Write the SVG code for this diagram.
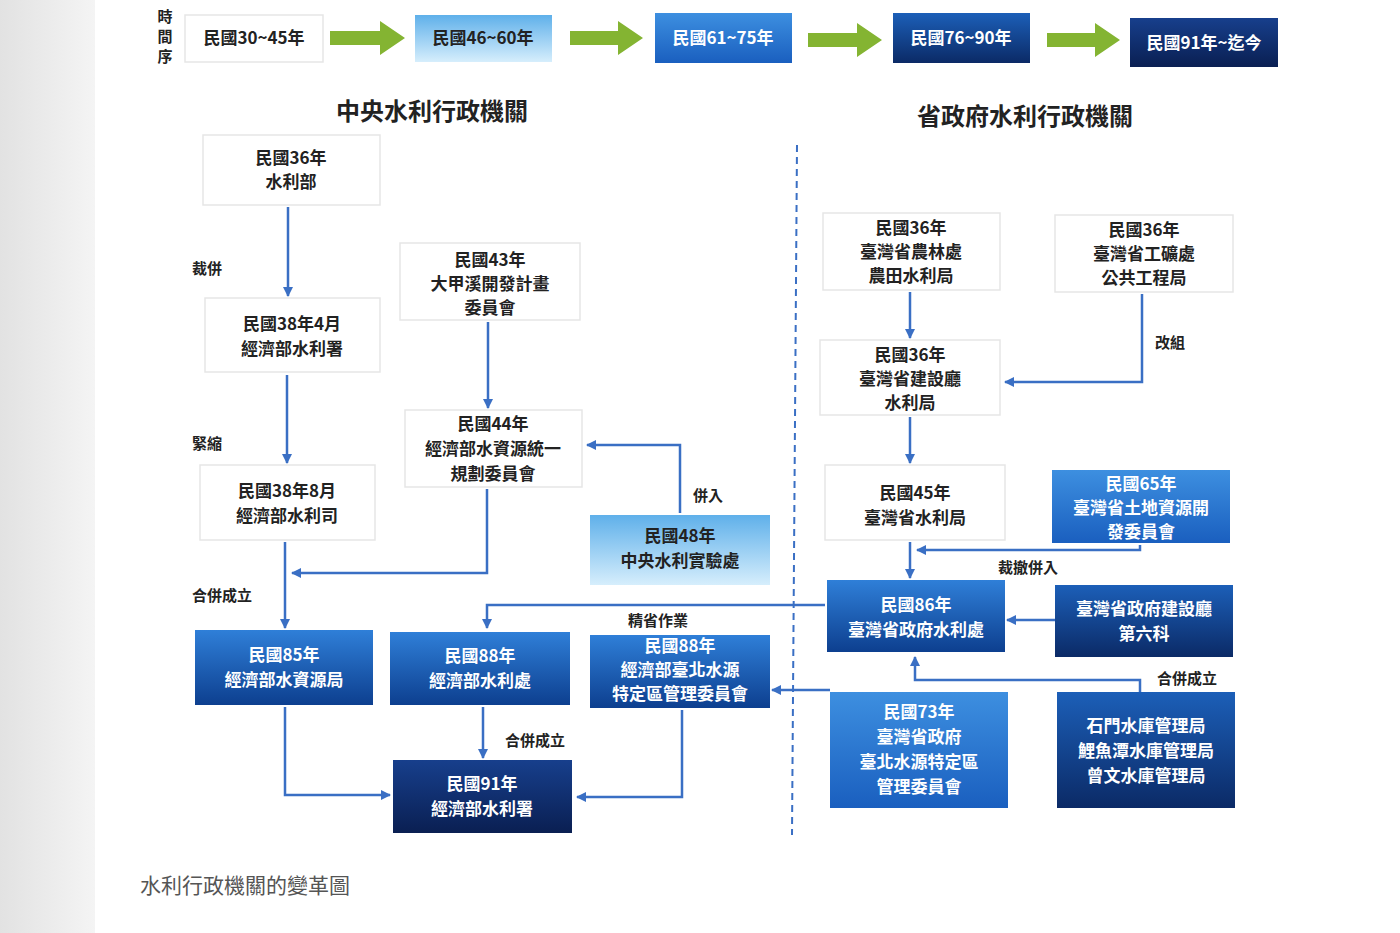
<svg xmlns="http://www.w3.org/2000/svg" width="1400" height="933" viewBox="0 0 1400 933">
<defs>
<linearGradient id="gLight" x1="0" y1="0" x2="0" y2="1"><stop offset="0" stop-color="#5fb0ea"/><stop offset="1" stop-color="#d6eefc"/></linearGradient>
<linearGradient id="gMid" x1="0" y1="0" x2="0" y2="1"><stop offset="0" stop-color="#3d8fe0"/><stop offset="1" stop-color="#1a5fbf"/></linearGradient>
<linearGradient id="gBlue" x1="0" y1="0" x2="0" y2="1"><stop offset="0" stop-color="#2f7fd8"/><stop offset="1" stop-color="#0d3f8f"/></linearGradient>
<linearGradient id="gDark" x1="0" y1="0" x2="0" y2="1"><stop offset="0" stop-color="#1c5fb8"/><stop offset="1" stop-color="#0b2a66"/></linearGradient>
<linearGradient id="gNavy" x1="0" y1="0" x2="0" y2="1"><stop offset="0" stop-color="#173f8c"/><stop offset="1" stop-color="#0a1f52"/></linearGradient>
<linearGradient id="gLeft" x1="0" y1="0" x2="1" y2="0"><stop offset="0" stop-color="#e2e2e2"/><stop offset="1" stop-color="#f4f4f4"/></linearGradient>
<marker id="ah" viewBox="0 0 10 10" refX="9" refY="5" markerWidth="4" markerHeight="4" orient="auto"><path d="M0,0L10,5L0,10z" fill="#3a6fc4"/></marker>
</defs>
<style>
text{font-family:"Noto Sans CJK TC","Noto Sans CJK SC",sans-serif;font-weight:bold;text-anchor:middle}
.w{fill:#fff;stroke:#e6e6e6;stroke-width:1.5}
.t{font-size:17px;fill:#222}
.tw{font-size:17px;fill:#fff}
.lb{font-size:15px;fill:#222;text-anchor:start}
.h{font-size:24px;fill:#222}
.c{fill:none;stroke:#3a6fc4;stroke-width:2.5;marker-end:url(#ah)}
.ga{fill:#84b432}
</style>
<rect width="1400" height="933" fill="#fff"/>
<rect width="95" height="933" fill="url(#gLeft)"/>
<text x="165" y="22" class="t" style="font-size:15px">時</text>
<text x="165" y="42" class="t" style="font-size:15px">間</text>
<text x="165" y="62" class="t" style="font-size:15px">序</text>

<g id="timeline">
<rect x="185" y="15" width="138" height="47" class="w"/><text x="254" y="44" class="t">民國30~45年</text>
<rect x="415" y="15" width="137" height="47" fill="url(#gLight)"/><text x="483" y="44" class="t">民國46~60年</text>
<rect x="655" y="13" width="137" height="50" fill="url(#gMid)"/><text x="723" y="44" class="tw">民國61~75年</text>
<rect x="893" y="13" width="137" height="50" fill="url(#gDark)"/><text x="961" y="44" class="tw">民國76~90年</text>
<rect x="1130" y="18" width="148" height="49" fill="url(#gNavy)"/><text x="1204" y="49" class="tw">民國91年~迄今</text>
<path class="ga" d="M330,31h50v-10l25,17l-25,17v-10h-50z"/>
<path class="ga" d="M570,31h48v-10l25,17l-25,17v-10h-48z"/>
<path class="ga" d="M808,33h49v-10l25,17l-25,17v-10h-49z"/>
<path class="ga" d="M1047,33h48v-10l25,17l-25,17v-10h-48z"/>
</g>

<text x="432" y="120" class="h">中央水利行政機關</text>
<text x="1025" y="125" class="h">省政府水利行政機關</text>
<line x1="797" y1="145" x2="792" y2="835" stroke="#3a6fc4" stroke-width="2" stroke-dasharray="7,5"/>

<g id="connectors">
<path class="c" d="M288,207V296"/>
<path class="c" d="M287,375V463"/>
<path class="c" d="M285,542V628"/>
<path class="c" d="M488,322V408"/>
<path class="c" d="M487,489V573H292"/>
<path class="c" d="M680,513V445H587"/>
<path class="c" d="M825,605H487V628"/>
<path class="c" d="M830,690H772"/>
<path class="c" d="M1140,692V680H915V657"/>
<path class="c" d="M1055,620H1007"/>
<path class="c" d="M1140,545V550H917"/>
<path class="c" d="M910,542V578"/>
<path class="c" d="M910,292V338"/>
<path class="c" d="M1142,294V382H1005"/>
<path class="c" d="M910,417V463"/>
<path class="c" d="M285,707V795H390"/>
<path class="c" d="M483,707V758"/>
<path class="c" d="M682,710V797H577"/>
</g>

<g id="labels">
<text x="192" y="274" class="lb">裁併</text>
<text x="192" y="449" class="lb">緊縮</text>
<text x="192" y="601" class="lb">合併成立</text>
<text x="693" y="501" class="lb">併入</text>
<text x="628" y="626" class="lb">精省作業</text>
<text x="505" y="746" class="lb">合併成立</text>
<text x="1155" y="348" class="lb">改組</text>
<text x="998" y="573" class="lb">裁撤併入</text>
<text x="1157" y="684" class="lb">合併成立</text>
</g>

<g id="n1"><rect x="203" y="135" width="177" height="70" class="w"/><text x="291" y="164" class="t">民國36年</text><text x="291" y="188" class="t">水利部</text></g>
<g id="n2"><rect x="205" y="298" width="175" height="74" class="w"/><text x="292" y="330" class="t">民國38年4月</text><text x="292" y="355" class="t">經濟部水利署</text></g>
<g id="n3"><rect x="200" y="465" width="175" height="75" class="w"/><text x="287" y="497" class="t">民國38年8月</text><text x="287" y="522" class="t">經濟部水利司</text></g>
<g id="n4"><rect x="400" y="243" width="180" height="77" class="w"/><text x="490" y="266" class="t">民國43年</text><text x="490" y="290" class="t">大甲溪開發計畫</text><text x="490" y="314" class="t">委員會</text></g>
<g id="n5"><rect x="405" y="410" width="177" height="77" class="w"/><text x="493" y="430" class="t">民國44年</text><text x="493" y="455" class="t">經濟部水資源統一</text><text x="493" y="480" class="t">規劃委員會</text></g>
<g id="n6"><rect x="590" y="515" width="180" height="70" fill="url(#gLight)"/><text x="680" y="542" class="t">民國48年</text><text x="680" y="567" class="t">中央水利實驗處</text></g>
<g id="n7"><rect x="195" y="630" width="178" height="75" fill="url(#gBlue)"/><text x="284" y="661" class="tw">民國85年</text><text x="284" y="686" class="tw">經濟部水資源局</text></g>
<g id="n8"><rect x="390" y="632" width="180" height="73" fill="url(#gBlue)"/><text x="480" y="662" class="tw">民國88年</text><text x="480" y="687" class="tw">經濟部水利處</text></g>
<g id="n9"><rect x="590" y="635" width="180" height="73" fill="url(#gBlue)"/><text x="680" y="652" class="tw">民國88年</text><text x="680" y="676" class="tw">經濟部臺北水源</text><text x="680" y="700" class="tw">特定區管理委員會</text></g>
<g id="n10"><rect x="393" y="760" width="179" height="73" fill="url(#gNavy)"/><text x="482" y="790" class="tw">民國91年</text><text x="482" y="815" class="tw">經濟部水利署</text></g>

<g id="r1"><rect x="823" y="213" width="177" height="77" class="w"/><text x="911" y="234" class="t">民國36年</text><text x="911" y="258" class="t">臺灣省農林處</text><text x="911" y="282" class="t">農田水利局</text></g>
<g id="r2"><rect x="1055" y="215" width="178" height="77" class="w"/><text x="1144" y="236" class="t">民國36年</text><text x="1144" y="260" class="t">臺灣省工礦處</text><text x="1144" y="284" class="t">公共工程局</text></g>
<g id="r3"><rect x="820" y="340" width="180" height="75" class="w"/><text x="910" y="361" class="t">民國36年</text><text x="910" y="385" class="t">臺灣省建設廳</text><text x="910" y="409" class="t">水利局</text></g>
<g id="r4"><rect x="825" y="465" width="180" height="75" class="w"/><text x="915" y="499" class="t">民國45年</text><text x="915" y="524" class="t">臺灣省水利局</text></g>
<g id="r5"><rect x="1052" y="470" width="178" height="73" fill="url(#gMid)"/><text x="1141" y="490" class="tw">民國65年</text><text x="1141" y="514" class="tw">臺灣省土地資源開</text><text x="1141" y="538" class="tw">發委員會</text></g>
<g id="r6"><rect x="827" y="580" width="178" height="72" fill="url(#gBlue)"/><text x="916" y="611" class="tw">民國86年</text><text x="916" y="636" class="tw">臺灣省政府水利處</text></g>
<g id="r7"><rect x="1055" y="585" width="178" height="72" fill="url(#gDark)"/><text x="1144" y="615" class="tw">臺灣省政府建設廳</text><text x="1144" y="640" class="tw">第六科</text></g>
<g id="r8"><rect x="830" y="692" width="178" height="116" fill="url(#gMid)"/><text x="919" y="718" class="tw">民國73年</text><text x="919" y="743" class="tw">臺灣省政府</text><text x="919" y="768" class="tw">臺北水源特定區</text><text x="919" y="793" class="tw">管理委員會</text></g>
<g id="r9"><rect x="1057" y="692" width="178" height="116" fill="url(#gDark)"/><text x="1146" y="732" class="tw">石門水庫管理局</text><text x="1146" y="757" class="tw">鯉魚潭水庫管理局</text><text x="1146" y="782" class="tw">曾文水庫管理局</text></g>

<text x="140" y="893" style="font-size:21px;font-weight:normal;fill:#555;text-anchor:start">水利行政機關的變革圖</text>
</svg>
